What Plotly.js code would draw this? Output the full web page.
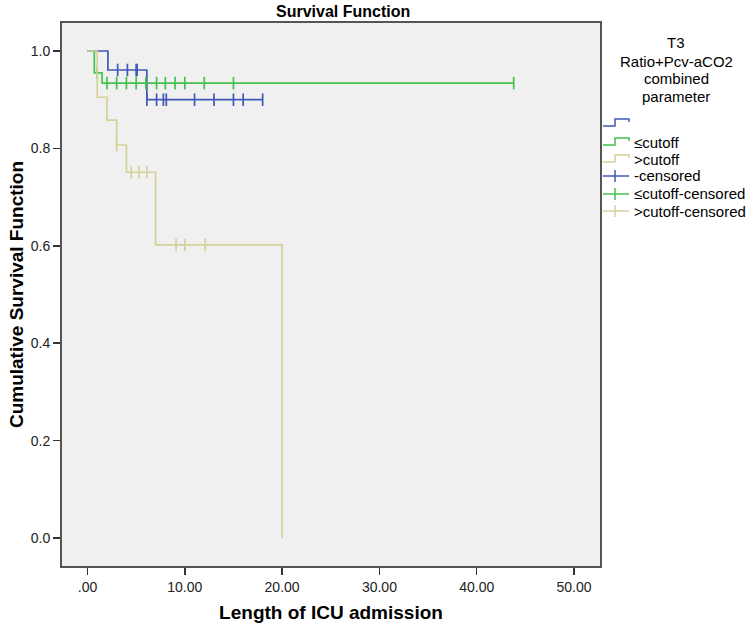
<!DOCTYPE html>
<html><head><meta charset="utf-8">
<script src="https://cdn.plot.ly/plotly-3.0.1.min.js"></script>
<style>html,body{margin:0;padding:0;background:#fff}#chart{width:752px;height:628px}</style>
</head><body><div id="chart"></div>
<script>
// Step curves (time of change, survival after change)
const blueTime = [0, 2.1, 6.1, 18.0];
const blueSurv = [1.0, 0.961, 0.900, 0.900];
const greenTime = [0, 0.7, 1.5, 43.8];
const greenSurv = [1.0, 0.955, 0.934, 0.934];
const beigeTime = [0, 1.0, 2.0, 3.0, 4.0, 7.0, 20.0];
const beigeSurv = [1.0, 0.905, 0.858, 0.807, 0.751, 0.602, 0.0];

// Censored observations
const blueCensT = [3.1, 4.1, 5.0, 5.1, 6.1, 7.1, 7.8, 8.1, 11.0, 13.0, 15.0, 16.0, 18.0];
const blueCensS = [0.961, 0.961, 0.961, 0.961, 0.900, 0.900, 0.900, 0.900, 0.900, 0.900, 0.900, 0.900, 0.900];
const greenCensT = [1.0, 2.0, 3.0, 4.0, 5.0, 6.0, 7.1, 8.0, 9.0, 10.0, 12.0, 15.0, 43.8];
const greenCensS = [0.955, 0.934, 0.934, 0.934, 0.934, 0.934, 0.934, 0.934, 0.934, 0.934, 0.934, 0.934, 0.934];
const beigeCensT = [3.0, 4.5, 5.3, 6.1, 9.1, 10.0, 12.1];
const beigeCensS = [0.807, 0.751, 0.751, 0.751, 0.602, 0.602, 0.602];

const xTickVals = [0, 10, 20, 30, 40, 50];
const xTickText = ['.00', '10.00', '20.00', '30.00', '40.00', '50.00'];
const yTickVals = [0, 0.2, 0.4, 0.6, 0.8, 1.0];
const yTickText = ['0.0', '0.2', '0.4', '0.6', '0.8', '1.0'];

const legendTitleLines = ['T3', 'Ratio+Pcv-aCO2', 'combined', 'parameter'];
const legendLabels = ['', '≤cutoff', '>cutoff', '-censored', '≤cutoff-censored', '>cutoff-censored'];

const BLUE = '#4059b4', GREEN = '#44c04c', BEIGE = '#d6d09a';
const legendColors = [BLUE, GREEN, BEIGE, BLUE, GREEN, BEIGE];

function step(x, y, c) {
  return {x: x, y: y, type: 'scatter', mode: 'lines', line: {shape: 'hv', color: c, width: 1.7},
          showlegend: false, hoverinfo: 'skip'};
}
function cens(x, y, c) {
  return {x: x, y: y, type: 'scatter', mode: 'markers',
          marker: {symbol: 'line-ns-open', size: 9, color: c, line: {color: c, width: 1.7}},
          showlegend: false, hoverinfo: 'skip'};
}

const data = [
  step(blueTime, blueSurv, BLUE),
  cens(blueCensT, blueCensS, BLUE),
  step(greenTime, greenSurv, GREEN),
  cens(greenCensT, greenCensS, GREEN),
  step(beigeTime, beigeSurv, BEIGE),
  cens(beigeCensT, beigeCensS, BEIGE)
];

// plot area in pixels
const L = 62, R = 600, T = 23, B = 566, W = 752, H = 628;
const px = v => (v - L) / (R - L);
const py = v => (B - v) / (B - T);

const shapes = [];
const annotations = [];
const font = 'Arial, "Liberation Sans", sans-serif';

annotations.push({xref: 'paper', yref: 'paper', x: px(343), y: py(11), text: '<b>Survival Function</b>',
  showarrow: false, xanchor: 'center', yanchor: 'middle', font: {family: font, size: 16, color: '#000'}});

const titleY = [42, 61, 79, 96];
legendTitleLines.forEach((t, i) => annotations.push({xref: 'paper', yref: 'paper', x: px(676), y: py(titleY[i]),
  text: t, showarrow: false, xanchor: 'center', yanchor: 'middle', font: {family: font, size: 15, color: '#000'}}));

const itemY = [123, 142, 159, 176, 194, 211];
legendLabels.forEach((t, i) => {
  const yc = itemY[i], c = legendColors[i];
  if (i < 3) {
    const path = `M${px(603)},${py(yc + 3)} L${px(615)},${py(yc + 3)} L${px(615)},${py(yc - 4)} L${px(629)},${py(yc - 4)} L${px(629)},${py(yc - 1)}`;
    shapes.push({type: 'path', xref: 'paper', yref: 'paper', path: path, line: {color: c, width: 1.5}});
  } else {
    shapes.push({type: 'line', xref: 'paper', yref: 'paper', x0: px(603), x1: px(629), y0: py(yc), y1: py(yc), line: {color: c, width: 1.5}});
    shapes.push({type: 'line', xref: 'paper', yref: 'paper', x0: px(615), x1: px(615), y0: py(yc - 6), y1: py(yc + 6), line: {color: c, width: 1.5}});
  }
  if (t) annotations.push({xref: 'paper', yref: 'paper', x: px(632), y: py(yc), text: t, showarrow: false,
    xanchor: 'left', yanchor: 'middle', font: {family: font, size: 15, color: '#000'}});
});

const layout = {
  width: W, height: H,
  margin: {l: L, r: W - R, t: T, b: H - B, pad: 0},
  paper_bgcolor: '#ffffff', plot_bgcolor: '#f0f0f0',
  showlegend: false,
  xaxis: {range: [-2.62, 52.67], tickvals: xTickVals, ticktext: xTickText, showgrid: false, zeroline: false,
    ticks: 'outside', ticklen: 7, tickwidth: 1.5, tickcolor: '#333', showline: true, mirror: true,
    linecolor: '#555', linewidth: 2, tickfont: {family: font, size: 14, color: '#222'},
    title: {text: '<b>Length of ICU admission</b>', font: {family: font, size: 19, color: '#000'}, standoff: 12}},
  yaxis: {range: [-0.0575, 1.0575], tickvals: yTickVals, ticktext: yTickText, showgrid: false, zeroline: false,
    ticks: 'outside', ticklen: 7, tickwidth: 1.5, tickcolor: '#333', showline: true, mirror: true,
    linecolor: '#555', linewidth: 2, tickfont: {family: font, size: 14, color: '#222'},
    title: {text: '<b>Cumulative Survival Function</b>', font: {family: font, size: 19, color: '#000'}, standoff: 2}},
  shapes: shapes,
  annotations: annotations
};

Plotly.newPlot('chart', data, layout, {displayModeBar: false, staticPlot: true});
</script>
</body></html>
